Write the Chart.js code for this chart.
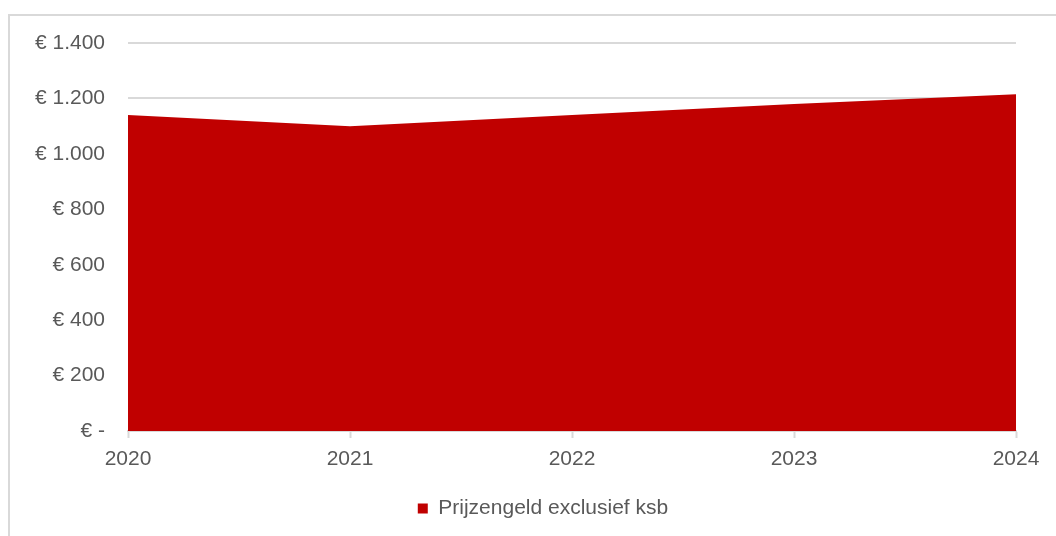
<!DOCTYPE html>
<html>
<head>
    <title>Prijzengeld exclusief ksb</title>
    <script src="https://cdn.jsdelivr.net/npm/chart.js"></script>
    <style>
        html, body {
            margin: 0;
            padding: 0;
            background: #fff;
            overflow: hidden;
        }
        .frame {
            position: absolute;
            left: 8px;
            top: 14px;
            width: 1100px;
            height: 600px;
            border: 2px solid #d9d9d9;
        }
        .chart-container {
            position: absolute;
            left: 0;
            top: 0;
            width: 1056px;
            height: 536px;
        }
    </style>
</head>
<body>
<div class="frame"></div>
<div class="chart-container">
    <canvas id="areaChart" width="1056" height="536"></canvas>
</div>

<script>
    const years = ['2020', '2021', '2022', '2023', '2024'];
    const prijzengeld = [1140, 1100, 1140, 1180, 1215];
    const yTicks = [0, 200, 400, 600, 800, 1000, 1200, 1400];

    const red = '#c00000';
    const textColor = '#595959';
    const gridColor = '#d9d9d9';

    // € 1.400, € -  (Nederlandse notatie)
    function euro(v) {
        if (v === 0) return '€ -';
        return '€ ' + String(v).replace(/\B(?=(\d{3})+(?!\d))/g, '.');
    }

    // legenda iets naar rechts, zoals in het origineel
    const legendShift = {
        id: 'legendShift',
        afterLayout(chart) {
            const lg = chart.legend;
            if (lg) {
                lg.left += 35;
                lg.right += 35;
            }
        }
    };

    Chart.defaults.font.family = '"Liberation Sans", Arial, sans-serif';
    Chart.defaults.font.size = 21;
    Chart.defaults.color = textColor;

    const ctx = document.getElementById('areaChart').getContext('2d');
    new Chart(ctx, {
        type: 'line',
        data: {
            labels: years,
            datasets: [{
                label: 'Prijzengeld exclusief ksb',
                data: prijzengeld,
                fill: 'origin',
                backgroundColor: red,
                borderColor: red,
                borderWidth: 0,
                pointRadius: 0,
                tension: 0
            }]
        },
        options: {
            responsive: false,
            animation: false,
            layout: {
                padding: { left: 0, top: 43, right: 40, bottom: 7 }
            },
            plugins: {
                legend: {
                    position: 'bottom',
                    labels: {
                        boxWidth: 10,
                        boxHeight: 10,
                        padding: 14,
                        color: textColor
                    }
                },
                tooltip: { enabled: false }
            },
            scales: {
                x: {
                    offset: false,
                    grid: {
                        drawOnChartArea: false,
                        drawTicks: true,
                        tickLength: 7,
                        tickColor: gridColor,
                        tickWidth: 2
                    },
                    border: { color: gridColor, width: 2 },
                    ticks: { padding: 9, maxRotation: 0 },
                    afterFit: function(axis) { axis.height = 53; }
                },
                y: {
                    min: 0,
                    max: 1400,
                    afterBuildTicks: function(axis) {
                        axis.ticks = yTicks.map(v => ({ value: v }));
                    },
                    grid: {
                        color: gridColor,
                        lineWidth: 2,
                        drawTicks: false
                    },
                    border: { display: false },
                    ticks: {
                        padding: 23,
                        callback: function(v) { return euro(v); }
                    },
                    afterFit: function(axis) { axis.width = 128; }
                }
            }
        },
        plugins: [legendShift]
    });
</script>
</body>
</html>
